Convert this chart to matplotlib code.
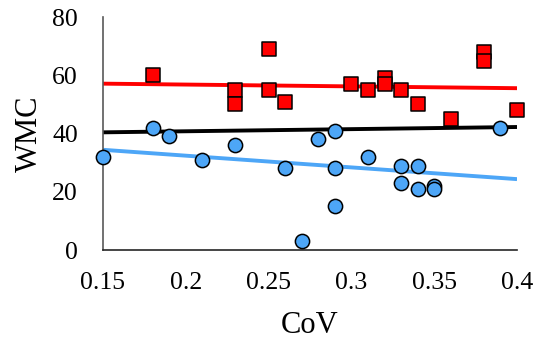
import numpy as np
import matplotlib
matplotlib.use("Agg")
import matplotlib.pyplot as plt

# Group A (blue circles)
cov_a = [0.15, 0.18, 0.19, 0.21, 0.23, 0.26, 0.27, 0.28, 0.29, 0.29,
         0.29, 0.31, 0.33, 0.33, 0.34, 0.34, 0.35, 0.35, 0.39]
wmc_a = [32, 42, 39, 31, 36, 28, 3, 38, 41, 28,
         15, 32, 29, 23, 29, 21, 22, 21, 42]

# Group B (red squares)
cov_b = [0.18, 0.23, 0.23, 0.25, 0.25, 0.26, 0.30, 0.31, 0.32, 0.32,
         0.33, 0.34, 0.36, 0.38, 0.38, 0.40]
wmc_b = [60, 55, 50, 69, 55, 51, 57, 55, 59, 57,
         55, 50, 45, 68, 65, 48]

x_ticks = [0.15, 0.2, 0.25, 0.3, 0.35, 0.4]
x_tick_labels = ["0.15", "0.2", "0.25", "0.3", "0.35", "0.4"]
y_ticks = [0, 20, 40, 60, 80]

plt.rcParams["font.family"] = ["Liberation Serif", "DejaVu Serif"]

fig = plt.figure(figsize=(5.38, 3.42), dpi=100)
ax = fig.add_axes([0.1914, 0.269, 0.7696, 0.681])

blue = "#4DA6F7"
red = "#FF0000"

xs = np.array([0.15, 0.4])

def trend(x, y):
    k, b = np.polyfit(np.asarray(x), np.asarray(y), 1)
    return k * xs + b

# linear trend lines: group A, group B, and all points together
ax.plot(xs, trend(cov_a, wmc_a), color=blue, lw=2.8, zorder=2,
        solid_capstyle="butt")
ax.plot(xs, trend(cov_b, wmc_b), color=red, lw=2.8, zorder=2,
        solid_capstyle="butt")
ax.plot(xs, trend(cov_a + cov_b, wmc_a + wmc_b), color="black", lw=2.8,
        zorder=2, solid_capstyle="butt")

ax.scatter(cov_a, wmc_a, s=105, marker="o", facecolor=blue,
           edgecolor="black", linewidth=1.1, zorder=3, clip_on=False)
ax.scatter(cov_b, wmc_b, s=92, marker="s", facecolor=red,
           edgecolor="black", linewidth=1.1, zorder=3, clip_on=False)

ax.set_xlim(0.15, 0.4)
ax.set_ylim(0, 80)
ax.set_xticks(x_ticks)
ax.set_xticklabels(x_tick_labels)
ax.set_yticks(y_ticks)
ax.tick_params(axis="both", length=0, labelsize=18.5)
ax.tick_params(axis="x", pad=16)
ax.tick_params(axis="y", pad=18)

for side in ("top", "right"):
    ax.spines[side].set_visible(False)
ax.spines["left"].set_color("#595959")
ax.spines["left"].set_linewidth(1.2)
ax.spines["bottom"].set_color("#262626")
ax.spines["bottom"].set_linewidth(1.2)

ax.set_xlabel("CoV", fontsize=22, labelpad=12)
ax.set_ylabel("WMC", fontsize=22, labelpad=6)

fig.savefig("out.png", dpi=100)
